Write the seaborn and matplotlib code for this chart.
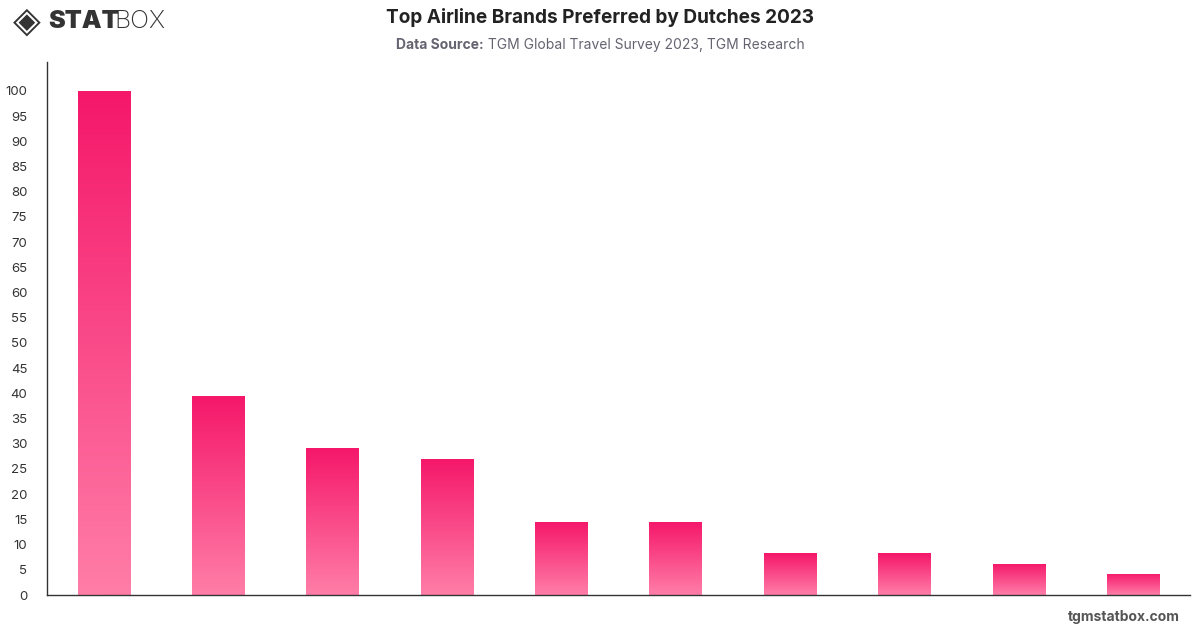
import matplotlib
matplotlib.use("Agg")
import matplotlib.pyplot as plt
import numpy as np
import pandas as pd
import seaborn as sns
from matplotlib.colors import LinearSegmentedColormap

# Data (brand names are not legible in the reference)
brands = [f"Brand {i}" for i in range(1, 11)]
shares = [100, 39.5, 29.2, 27.0, 14.5, 14.5, 8.3, 8.3, 6.2, 4.2]
y_ticks = list(range(0, 101, 5))

sns.set_theme(style="white")
plt.rcParams["font.family"] = ["Inter", "DejaVu Sans"]

df = pd.DataFrame({"brand": brands, "share": shares})

fig = plt.figure(figsize=(12, 6.28), dpi=100)
ax = fig.add_axes([0.039, 0.0525, 0.953, 0.8485])

sns.barplot(data=df, x="brand", y="share", color="#F5176A", width=0.46, ax=ax)

ax.set_xlim(-0.5, len(brands) - 0.5)
ax.set_ylim(0, 105.7)

# vertical pink gradient inside each bar
cmap = LinearSegmentedColormap.from_list("pink", ["#FF7EA8", "#F5176A"])
grad = np.linspace(0, 1, 256).reshape(-1, 1)
for bar in ax.patches:
    x0, y0 = bar.get_x(), bar.get_y()
    w, h = bar.get_width(), bar.get_height()
    bar.set_facecolor("none")
    bar.set_edgecolor("none")
    im = ax.imshow(grad, cmap=cmap, origin="lower", aspect="auto",
                   extent=[x0, x0 + w, y0, y0 + h], zorder=2)
    im.set_clip_path(bar)

ax.set_xlim(-0.5, len(brands) - 0.5)
ax.set_ylim(0, 105.7)
ax.set_yticks(y_ticks)
ax.tick_params(axis="y", labelsize=9.5, labelcolor="#333333", length=0, pad=14)
ax.set_xticks([])
ax.set_xlabel("")
ax.set_ylabel("")
for side in ["top", "right"]:
    ax.spines[side].set_visible(False)
for side in ["left", "bottom"]:
    ax.spines[side].set_color("#333333")
    ax.spines[side].set_linewidth(1.0)

# header
fig.text(0.5, 0.972, "Top Airline Brands Preferred by Dutches 2023",
         ha="center", va="center", fontsize=13.7, fontweight="bold", color="#222222")

# subtitle: bold label + normal text, centred as one line
renderer = fig.canvas.get_renderer()
t1 = fig.text(0, 0.929, "Data Source:", ha="left", va="center",
              fontsize=10, fontweight="bold", color="#666370")
t2 = fig.text(0, 0.929, " TGM Global Travel Survey 2023, TGM Research",
              ha="left", va="center", fontsize=10, color="#666370")
w1 = t1.get_window_extent(renderer).width / fig.bbox.width
w2 = t2.get_window_extent(renderer).width / fig.bbox.width
start = 0.5 - (w1 + w2) / 2
t1.set_x(start)
t2.set_x(start + w1)

# logo
fig.text(0.011, 0.966, "\u25C8", ha="left", va="center", fontsize=26,
         color="#333333", family=["DejaVu Sans"])
fig.text(0.040, 0.966, "STAT", ha="left", va="center", fontsize=18,
         fontweight="black", color="#333333")
fig.text(0.0955, 0.966, "BOX", ha="left", va="center", fontsize=18,
         fontweight="light", color="#333333")

# footer
fig.text(0.983, 0.018, "tgmstatbox.com", ha="right", va="center",
         fontsize=10, fontweight="bold", color="#555555")

fig.savefig("out.png", dpi=100)
